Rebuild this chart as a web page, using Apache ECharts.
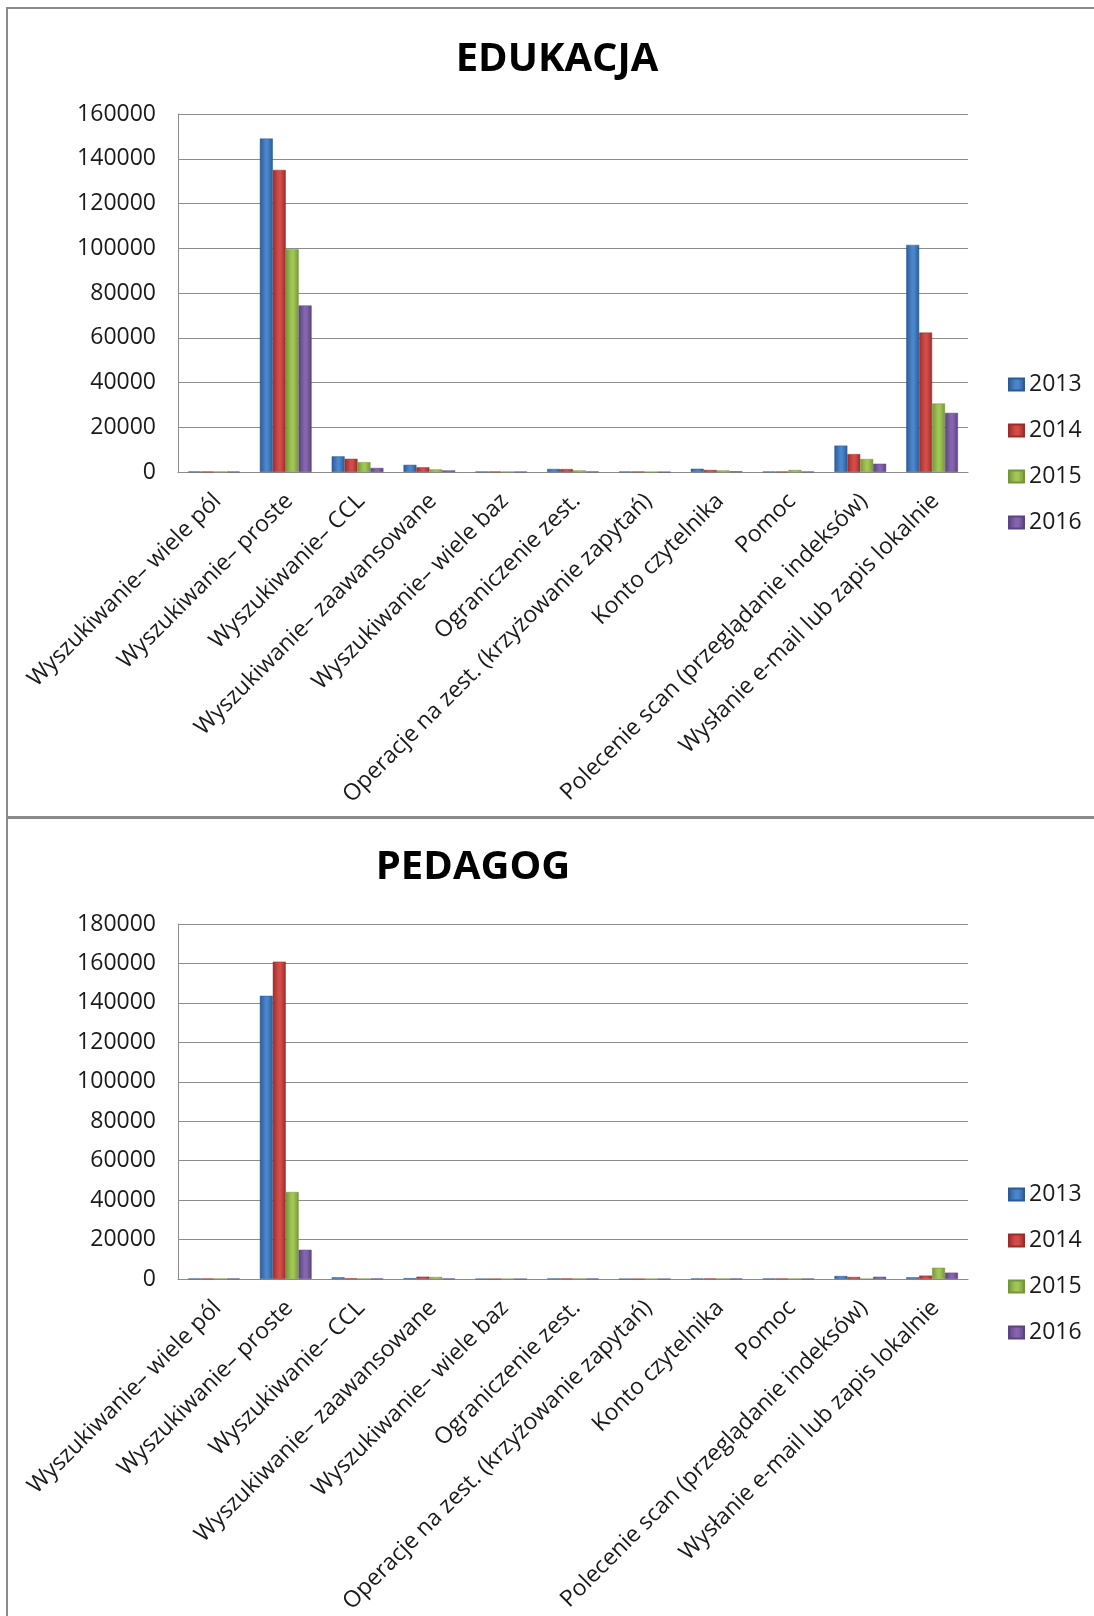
<!DOCTYPE html>
<html>
<head>
<meta charset="utf-8">
<script src="https://cdn.jsdelivr.net/npm/echarts/dist/echarts.min.js"></script>
<style>
html,body{margin:0;padding:0;background:#fff;}
#chart{width:1094px;height:1616px;}
</style>
</head>
<body>
<div id="chart"></div>
<script>
const categories = [
  "Wyszukiwanie– wiele pól",
  "Wyszukiwanie– proste",
  "Wyszukiwanie– CCL",
  "Wyszukiwanie– zaawansowane",
  "Wyszukiwanie– wiele baz",
  "Ograniczenie zest.",
  "Operacje na zest. (krzyżowanie zapytań)",
  "Konto czytelnika",
  "Pomoc",
  "Polecenie scan (przeglądanie indeksów)",
  "Wysłanie e-mail lub zapis lokalnie"
];
const years = ["2013", "2014", "2015", "2016"];

const titleTop = "EDUKACJA";
const titleBottom = "PEDAGOG";

// EDUKACJA
const edu2013 = [200, 149000, 7000, 3200, 150, 1350, 150, 1450, 150, 11800, 101500];
const edu2014 = [150, 135000, 5900, 2100, 150, 1300, 150, 900, 150, 8000, 62300];
const edu2015 = [150, 99500, 4400, 1150, 100, 700, 0, 700, 900, 5800, 30600];
const edu2016 = [150, 74400, 1800, 700, 100, 200, 0, 300, 150, 3700, 26400];

// PEDAGOG
const ped2013 = [150, 143600, 850, 400, 0, 200, 0, 200, 150, 1500, 850];
const ped2014 = [150, 160900, 300, 1150, 0, 200, 0, 200, 150, 1000, 1700];
const ped2015 = [100, 44100, 100, 1000, 0, 150, 0, 150, 100, 0, 5700];
const ped2016 = [150, 14800, 200, 200, 0, 150, 0, 150, 100, 1100, 3200];

const yTicksTop = {min: 0, max: 160000, interval: 20000};
const yTicksBottom = {min: 0, max: 180000, interval: 20000};

const palette = [
  {edge: '#2b5a96', mid: '#4a86cc'},
  {edge: '#9c2c2a', mid: '#d24d49'},
  {edge: '#74963a', mid: '#a2c655'},
  {edge: '#5b4380', mid: '#8566ad'}
];
function grad(p) {
  return new echarts.graphic.LinearGradient(0, 0, 1, 0, [
    {offset: 0, color: p.edge},
    {offset: 0.45, color: p.mid},
    {offset: 0.6, color: p.mid},
    {offset: 1, color: p.edge}
  ]);
}

const FONT = '"Open Sans", sans-serif';
const FS = 23;
const gridColor = '#8c8c8c';
const textColor = '#1a1a1a';

function xAxis(gridIndex) {
  return {
    type: 'category', gridIndex: gridIndex, data: categories,
    axisLine: {show: true, lineStyle: {color: gridColor, width: 1}},
    axisTick: {show: false},
    axisLabel: {interval: 0, rotate: 45, margin: 29, padding: [0, -5, 0, 0],
                fontFamily: FONT, fontSize: FS, color: textColor}
  };
}
function yAxis(gridIndex, t) {
  return {
    type: 'value', gridIndex: gridIndex, min: t.min, max: t.max, interval: t.interval,
    axisLine: {show: true, lineStyle: {color: gridColor, width: 1}},
    axisTick: {show: false},
    splitLine: {show: true, lineStyle: {color: gridColor, width: 1}},
    axisLabel: {margin: 22, fontFamily: FONT, fontSize: FS, color: textColor,
                formatter: v => String(v)}
  };
}
function makeSeries(dataSets, idx) {
  return dataSets.map((d, i) => ({
    name: years[i], type: 'bar', xAxisIndex: idx, yAxisIndex: idx, data: d,
    barGap: '0%', barCategoryGap: '28%',
    itemStyle: {color: grad(palette[i]), borderColor: palette[i].edge, borderWidth: 0.5},
    emphasis: {disabled: true}
  }));
}
function legend(top) {
  return {
    orient: 'vertical', left: 1003, top: top, data: years,
    itemWidth: 15, itemHeight: 12, itemGap: 23, icon: 'rect',
    textStyle: {fontFamily: FONT, fontSize: FS, color: textColor, lineHeight: 23}
  };
}

const chart = echarts.init(document.getElementById('chart'), null, {renderer: 'canvas'});
chart.setOption({
  backgroundColor: '#fff',
  animation: false,
  title: [
    {text: titleTop, left: 552, top: 35, textAlign: 'center',
     textStyle: {fontFamily: FONT, fontSize: 40, fontWeight: 'bold', color: '#000'}},
    {text: titleBottom, left: 468, top: 843, textAlign: 'center',
     textStyle: {fontFamily: FONT, fontSize: 40, fontWeight: 'bold', color: '#000'}}
  ],
  legend: [legend(368), legend(1178)],
  grid: [
    {left: 178, top: 114, width: 790, height: 358, containLabel: false},
    {left: 178, top: 924, width: 790, height: 356, containLabel: false}
  ],
  xAxis: [xAxis(0), xAxis(1)],
  yAxis: [yAxis(0, yTicksTop), yAxis(1, yTicksBottom)],
  series: makeSeries([edu2013, edu2014, edu2015, edu2016], 0)
    .concat(makeSeries([ped2013, ped2014, ped2015, ped2016], 1)),
  graphic: [
    {type: 'rect', shape: {x: 7, y: 8, width: 1100, height: 809}, style: {fill: null, stroke: '#8a8a8a', lineWidth: 2}, silent: true},
    {type: 'rect', shape: {x: 7, y: 818, width: 1100, height: 820}, style: {fill: null, stroke: '#8a8a8a', lineWidth: 2}, silent: true}
  ]
});
</script>
</body>
</html>
